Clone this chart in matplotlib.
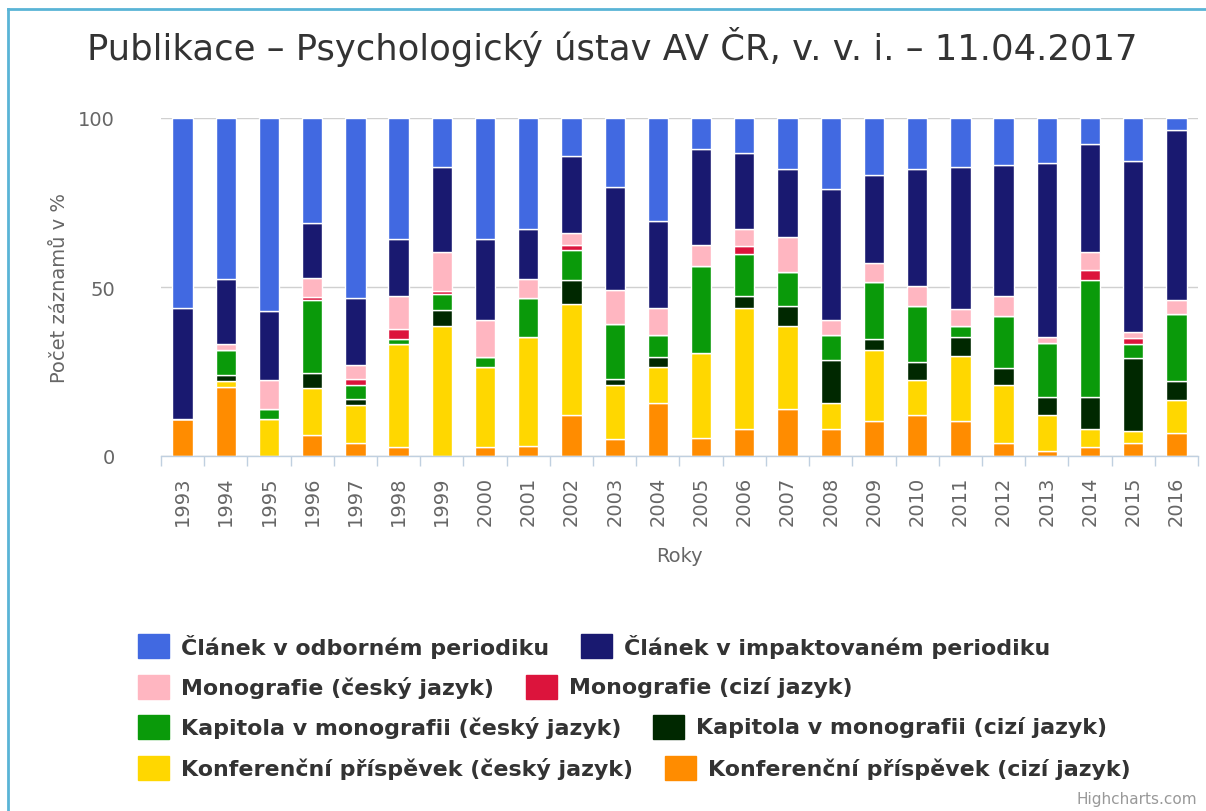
import numpy as np
import matplotlib
matplotlib.use('Agg')
from matplotlib import pyplot as plt
from matplotlib.patches import Rectangle
from matplotlib.lines import Line2D

# Years on the x axis
years = [str(y) for y in range(1993, 2017)]

# Share of records per category in %
clanek_odborny = [56.1, 47.7, 57.2, 31.0, 53.3, 35.9, 14.4, 35.9, 32.9, 11.3, 20.4, 30.6,
                  9.1, 10.3, 15.0, 20.9, 16.8, 15.0, 14.5, 13.9, 13.2, 7.8, 12.7, 3.6]
clanek_impakt = [33.1, 19.3, 20.3, 16.2, 19.7, 16.8, 25.2, 23.9, 14.8, 22.8, 30.4, 25.6,
                 28.5, 22.5, 20.3, 38.9, 26.2, 34.7, 42.1, 38.7, 51.5, 31.7, 50.5, 50.2]
mono_cz = [0, 1.7, 8.5, 5.7, 4.1, 9.6, 11.6, 10.8, 5.7, 3.6, 10.2, 7.9,
           6.2, 5.0, 10.3, 4.3, 5.5, 5.9, 4.9, 6.1, 1.8, 5.6, 2.0, 4.2]
mono_ciz = [0, 0, 0, 1.0, 1.8, 3.0, 1.0, 0, 0, 1.3, 0, 0,
            0, 2.3, 0, 0, 0, 0, 0, 0, 0, 2.8, 1.8, 0]
kap_cz = [0, 7.3, 3.2, 21.4, 4.1, 1.7, 4.7, 3.0, 11.3, 9.0, 16.1, 6.5,
          25.6, 12.6, 10.0, 7.6, 16.8, 16.6, 3.2, 15.3, 15.9, 34.5, 4.1, 19.8]
kap_ciz = [0, 1.8, 0, 4.7, 1.9, 0, 4.6, 0, 0, 7.0, 1.8, 3.0,
           0, 3.5, 5.9, 12.6, 3.4, 5.3, 5.8, 4.9, 5.4, 9.7, 21.5, 5.7]
konf_cz = [0, 1.8, 10.8, 13.9, 11.4, 30.4, 38.5, 23.8, 32.3, 32.9, 16.2, 10.8,
           25.2, 35.9, 24.7, 7.8, 20.9, 10.5, 19.1, 17.4, 10.8, 5.3, 3.7, 9.6]
konf_ciz = [10.8, 20.4, 0, 6.1, 3.7, 2.6, 0, 2.6, 3.0, 12.1, 4.9, 15.6,
            5.4, 7.9, 13.8, 7.9, 10.4, 12.0, 10.4, 3.7, 1.4, 2.6, 3.7, 6.9]

labels = ['Článek v odborném periodiku', 'Článek v impaktovaném periodiku',
          'Monografie (český jazyk)', 'Monografie (cizí jazyk)',
          'Kapitola v monografii (český jazyk)', 'Kapitola v monografii (cizí jazyk)',
          'Konferenční příspěvek (český jazyk)', 'Konferenční příspěvek (cizí jazyk)']
colors = ['#4169E1', '#191970', '#FFB6C1', '#DC143C',
          '#0A9A0A', '#002800', '#FFD700', '#FF8C00']
series = [clanek_odborny, clanek_impakt, mono_cz, mono_ciz,
          kap_cz, kap_ciz, konf_cz, konf_ciz]

W, H = 1206, 812
fig = plt.figure(figsize=(W / 100, H / 100), dpi=100)
ax = fig.add_axes([161 / W, 1 - 457 / H, 1037 / W, 338 / H])

x = np.arange(len(years))
# stack from the last series (bottom) to the first (top), like Highcharts does
bottom = np.zeros(len(years))
for vals, col in zip(series[::-1], colors[::-1]):
    vals = np.array(vals)
    ax.bar(x, vals, 0.47, bottom=bottom, color=col, edgecolor='white', linewidth=1, zorder=3)
    bottom += vals

ax.set_xlim(-0.5, len(years) - 0.5)
ax.set_ylim(0, 100)
ax.set_yticks([0, 50, 100])
ax.yaxis.grid(True, color='#D0D0D0', linewidth=1, zorder=0)
ax.set_axisbelow(True)
for s in ['top', 'right', 'left']:
    ax.spines[s].set_visible(False)
ax.spines['bottom'].set_color('#C0D0E0')
ax.spines['bottom'].set_linewidth(1)
ax.spines['bottom'].set_zorder(4)

ax.set_xticks(x)
ax.set_xticklabels(years, rotation=90, fontsize=14, color='#666666')
ax.set_xticks(np.arange(len(years) + 1) - 0.5, minor=True)
ax.tick_params(axis='x', which='major', length=0, pad=14)
ax.tick_params(axis='x', which='minor', length=7, color='#C0D0E0', width=1)
ax.tick_params(axis='y', length=0, pad=33, labelsize=14, labelcolor='#666666')

ax.set_ylabel('Počet záznamů v %', fontsize=14, color='#666666')
ax.yaxis.set_label_coords(-0.089, 0.5)
ax.set_xlabel('Roky', fontsize=14, color='#666666')
ax.xaxis.set_label_coords(0.5, -0.265)

fig.text(612 / W, 1 - 47 / H, 'Publikace – Psychologický ústav AV ČR, v. v. i. – 11.04.2017',
         ha='center', va='center', fontsize=25.5, color='#333333')

# chart frame (only top and left edges are visible)
fig.add_artist(Line2D([8 / W, 1], [1 - 10 / H, 1 - 10 / H], color='#5AB4D6', lw=2))
fig.add_artist(Line2D([8 / W, 8 / W], [0, 1 - 10 / H], color='#5AB4D6', lw=2))

# legend, left aligned rows of two items
fig.canvas.draw()
renderer = fig.canvas.get_renderer()
rows = [[0, 1], [2, 3], [4, 5], [6, 7]]
row_y = [647, 688, 728, 769]
for row, yc in zip(rows, row_y):
    xp = 138
    for i in row:
        fig.add_artist(Rectangle((xp / W, 1 - (yc + 12) / H), 31 / W, 24 / H,
                                 transform=fig.transFigure, color=colors[i]))
        t = fig.text((xp + 43) / W, 1 - yc / H, labels[i], ha='left', va='center',
                     fontsize=15.9, fontweight='bold', color='#333333')
        bb = t.get_window_extent(renderer)
        xp = xp + 43 + bb.width + 32

fig.text(1197 / W, 1 - 800 / H, 'Highcharts.com', ha='right', va='center',
         fontsize=11, color='#999999')

fig.savefig('out.png', dpi=100)
